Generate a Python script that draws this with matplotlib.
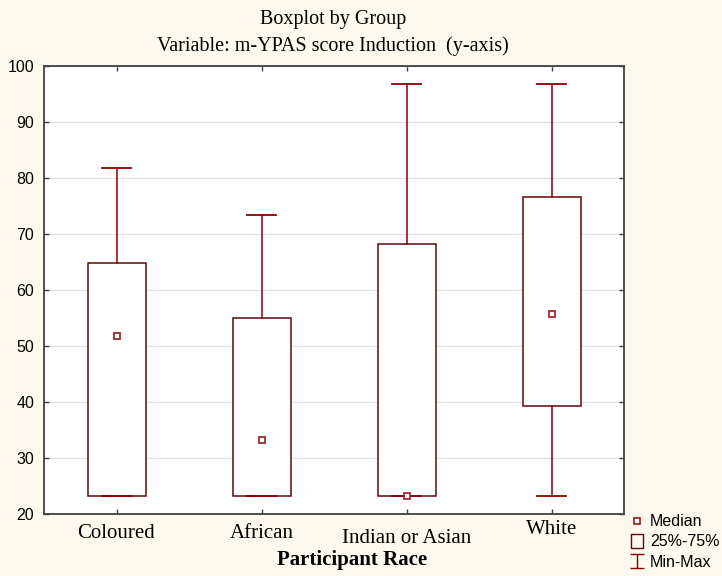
import matplotlib
matplotlib.use("Agg")
import matplotlib.pyplot as plt
from matplotlib.lines import Line2D
from matplotlib.path import Path
from matplotlib.transforms import ScaledTranslation

# ---- data ----
categories = ["Coloured", "African", "Indian or Asian", "White"]
mins = [23.3, 23.3, 23.3, 23.3]
q1s = [23.3, 23.3, 23.3, 39.3]
medians = [51.7, 33.3, 23.3, 55.8]
q3s = [64.9, 55.0, 68.3, 76.6]
maxs = [81.7, 73.4, 96.7, 96.7]
yticks = [20, 30, 40, 50, 60, 70, 80, 90, 100]

title1 = "Boxplot by Group"
title2 = "Variable: m-YPAS score Induction  (y-axis)"
xlabel = "Participant Race"
legend_labels = ["Median", "25%-75%", "Min-Max"]

# ---- styles ----
BG = "#FDF9EF"
BOX_C = "#5E0808"
WHISK_C = "#8B0000"
MED_C = "#A0141E"
SPINE_C = "#404040"
SERIF = ["Liberation Serif", "DejaVu Serif"]
SANS = ["Liberation Sans", "DejaVu Sans"]

fig = plt.figure(figsize=(7.22, 5.76), dpi=100, facecolor=BG)
ax = fig.add_axes([44 / 722, 1 - 514 / 576, 580 / 722, 448 / 576])
ax.set_facecolor("white")

positions = list(range(1, len(categories) + 1))
stats = []
for lab, lo, a, m, b, hi in zip(categories, mins, q1s, medians, q3s, maxs):
    stats.append(dict(label=lab, whislo=lo, q1=a, med=m, q3=b, whishi=hi, fliers=[]))

ax.bxp(stats, positions=positions, widths=0.4, capwidths=0.2,
       showfliers=False, patch_artist=True,
       boxprops=dict(facecolor="white", edgecolor=BOX_C, linewidth=1.1, zorder=2),
       whiskerprops=dict(color=WHISK_C, linewidth=1.1, zorder=2),
       capprops=dict(color=WHISK_C, linewidth=1.3, zorder=3),
       medianprops=dict(visible=False))
ax.plot(positions, medians, ls="none", marker="s", ms=5, mfc="white",
        mec=MED_C, mew=1.2, zorder=4)

ax.set_xlim(0.5, 4.5)
ax.set_ylim(20, 100)
ax.set_yticks(yticks)
ax.set_xticks(positions)
ax.set_xticklabels(categories, fontsize=15, family=SERIF)
for lab in ax.get_yticklabels():
    lab.set_family(SANS)
    lab.set_fontsize(11.5)
ax.yaxis.grid(True, color="#E2E2E2", linewidth=1.0, zorder=0)
ax.set_axisbelow(True)

ax.tick_params(axis="both", direction="in", length=3.5, width=1.0,
               color=SPINE_C, top=True, right=True)
ax.tick_params(axis="y", pad=7, labelcolor="black")
ax.tick_params(axis="x", pad=7.5)
for s in ax.spines.values():
    s.set_color(SPINE_C)
    s.set_linewidth(1.3)

# staggered x tick labels as in the reference
offsets_px = [0, 0, 5, -4]
for lab, dy in zip(ax.get_xticklabels(), offsets_px):
    lab.set_transform(lab.get_transform() +
                      ScaledTranslation(0, -dy / 100, fig.dpi_scale_trans))

ax.set_xlabel(xlabel, fontsize=15, fontweight="bold", family=SERIF)
ax.xaxis.set_label_coords((352 - 44) / 580, -(550 - 514) / 448)

fig.text(333 / 722, 1 - 24 / 576, title1, ha="center", va="baseline",
         fontsize=14.5, family=SERIF)
fig.text(333 / 722, 1 - 51 / 576, title2, ha="center", va="baseline",
         fontsize=14.5, family=SERIF)

# ---- legend ----
rect_path = Path([(-0.42, -0.5), (0.42, -0.5), (0.42, 0.5), (-0.42, 0.5), (-0.42, -0.5)],
                 [Path.MOVETO, Path.LINETO, Path.LINETO, Path.LINETO, Path.CLOSEPOLY])
ibeam_path = Path([(-0.5, 0.5), (0.5, 0.5), (0, 0.5), (0, -0.5), (-0.5, -0.5), (0.5, -0.5)],
                  [Path.MOVETO, Path.LINETO, Path.MOVETO, Path.LINETO, Path.MOVETO, Path.LINETO])
handles = [
    Line2D([], [], ls="none", marker="s", ms=5, mfc="white", mec=MED_C, mew=1.2),
    Line2D([], [], ls="none", marker=rect_path, ms=10.5, mfc="none", mec=BOX_C, mew=1.0),
    Line2D([], [], ls="none", marker=ibeam_path, ms=9.5, mfc="none", mec=WHISK_C, mew=1.0),
]
leg = fig.legend(handles, legend_labels, loc="upper left",
                 bbox_to_anchor=(626 / 722, 1 - 511 / 576),
                 frameon=False, handlelength=1.0, handletextpad=0.3,
                 labelspacing=0.33, borderaxespad=0, borderpad=0.2,
                 prop=dict(family=SANS, size=11.5))

fig.savefig("out.png", dpi=100, facecolor=BG)
